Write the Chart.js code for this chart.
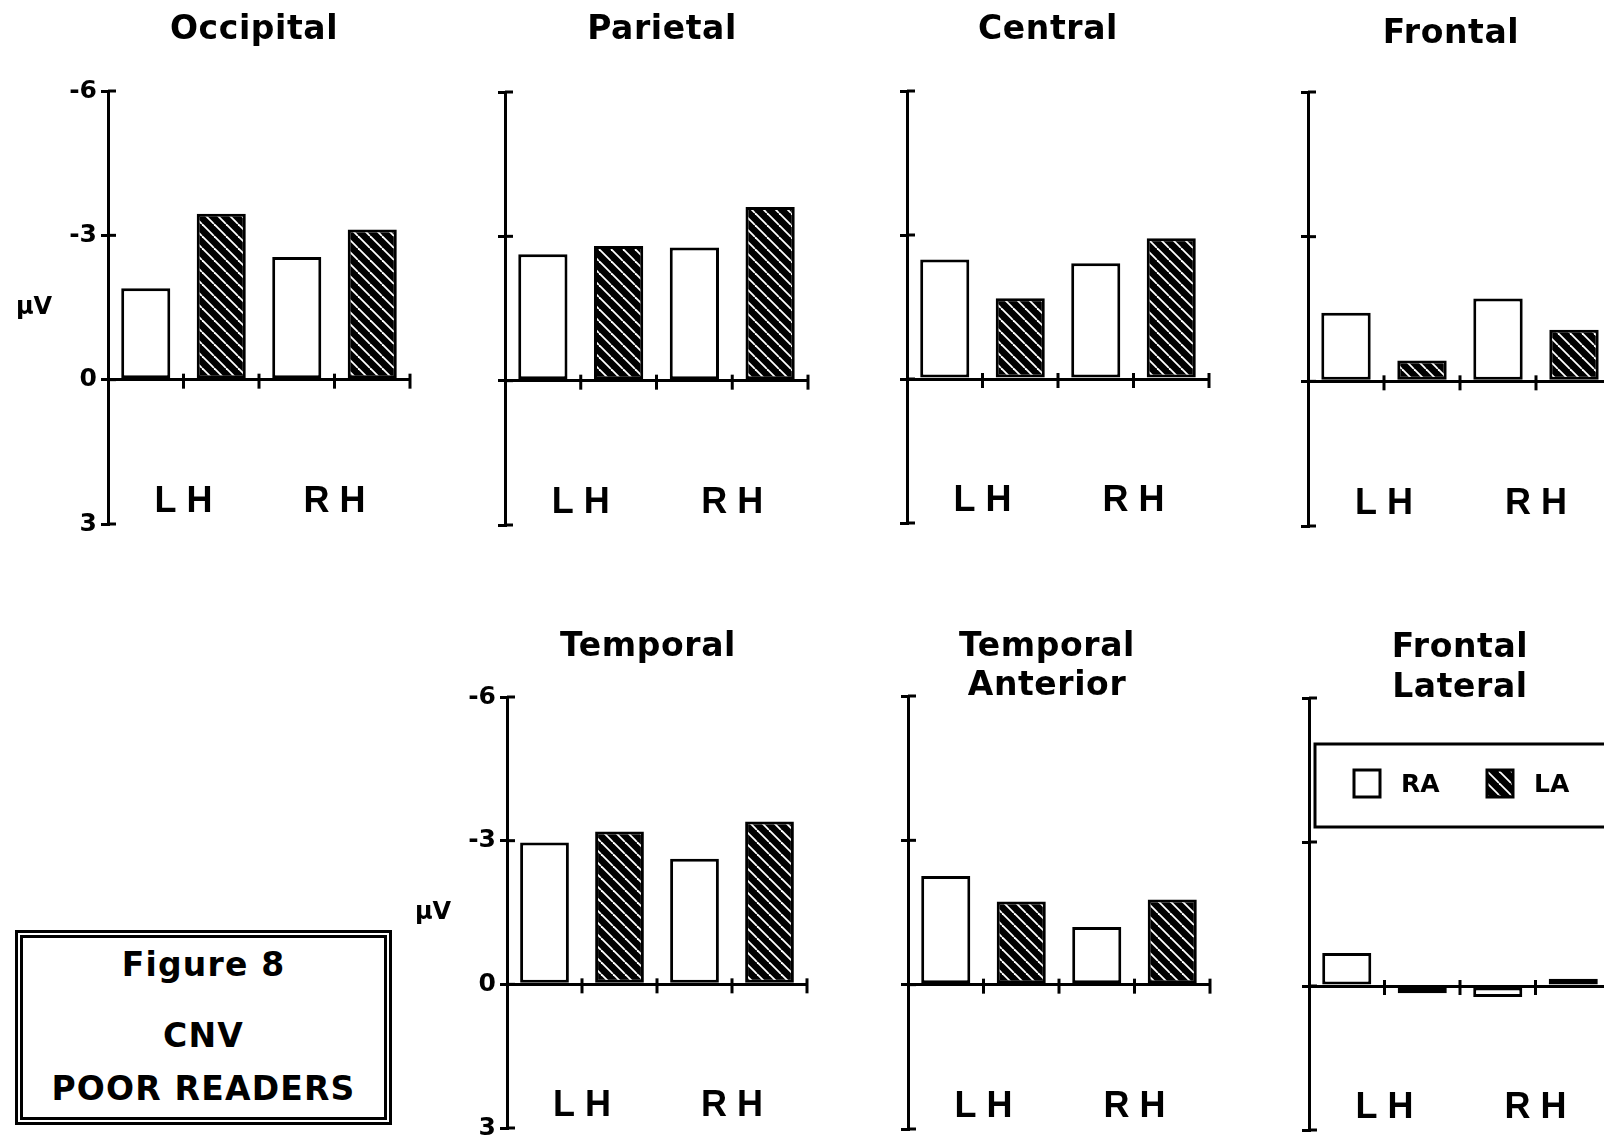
<!DOCTYPE html>
<html>
<head>
<meta charset="utf-8">
<title>Figure 8 - CNV Poor Readers</title>
<script src="https://cdn.jsdelivr.net/npm/chart.js@4.4.1/dist/chart.umd.min.js"></script>
<style>
  html, body {
    margin: 0;
    padding: 0;
    background: #fff;
    overflow: hidden;
  }
  body {
    position: relative;
    width: 1604px;
    height: 1137px;
    font-family: "DejaVu Sans", "Liberation Sans", Arial, sans-serif;
  }
  .figure-box {
    position: absolute;
    left: 15px;
    top: 930px;
    width: 377px;
    height: 195px;
    box-sizing: border-box;
    border: 8px double #000;
  }
  .figure-box__line {
    position: absolute;
    left: 0;
    right: 0;
    height: 40px;
    line-height: 40px;
    text-align: center;
    font-size: 33px;
    font-weight: bold;
    letter-spacing: 1.2px;
    color: #000;
  }
</style>
</head>
<body>
<div class="figure-box">
  <div class="figure-box__line" style="top: 7px">Figure 8</div>
  <div class="figure-box__line" style="top: 78px">CNV</div>
  <div class="figure-box__line" style="top: 131px">POOR READERS</div>
</div>
<script>
// categories and series
const pairs = ['L H', 'R H'];
const groups = ['RA', 'LA'];

// y axis: -6 at top, 3 at bottom (negative up)
const yMin = -6;
const yMax = 3;
const yStep = 3;

// values in µV
const occipitalRA = [-1.9, -2.55];
const occipitalLA = [-3.45, -3.12];
const parietalRA = [-2.63, -2.77];
const parietalLA = [-2.8, -3.61];
const centralRA = [-2.49, -2.41];
const centralLA = [-1.68, -2.93];
const frontalRA = [-1.42, -1.72];
const frontalLA = [-0.43, -1.07];
const temporalRA = [-2.96, -2.62];
const temporalLA = [-3.19, -3.4];
const tempAnteriorRA = [-2.26, -1.2];
const tempAnteriorLA = [-1.73, -1.77];
const frontLateralRA = [-0.69, 0.23];
const frontLateralLA = [0.15, -0.15];

const FONT = '"DejaVu Sans", "Liberation Sans", Arial, sans-serif';
const LABEL_FONT = '"Liberation Sans", Arial, sans-serif';
const PAD = { left: 110, top: 95, right: 12, bottom: 20 };
const Y_AXIS_W = 60;

// box = [axis left, value -6, right end, value 3] in page px
const panels = [
  { title: ['Occipital'], ra: occipitalRA, la: occipitalLA, box: [108, 91, 410, 524], titleX: 254, titleY: [30], yLabels: true },
  { title: ['Parietal'], ra: parietalRA, la: parietalLA, box: [505, 92, 808, 525], titleX: 662, titleY: [30] },
  { title: ['Central'], ra: centralRA, la: centralLA, box: [907, 91, 1209, 523], titleX: 1048, titleY: [30] },
  { title: ['Frontal'], ra: frontalRA, la: frontalLA, box: [1308, 92, 1612, 526], titleX: 1451, titleY: [34] },
  { title: ['Temporal'], ra: temporalRA, la: temporalLA, box: [507, 697, 807, 1128], titleX: 648, titleY: [647], yLabels: true },
  { title: ['Temporal', 'Anterior'], ra: tempAnteriorRA, la: tempAnteriorLA, box: [908, 696, 1210, 1129], titleX: 1047, titleY: [647, 686] },
  { title: ['Frontal', 'Lateral'], ra: frontLateralRA, la: frontLateralLA, box: [1309, 698, 1611, 1130], titleX: 1460, titleY: [648, 688], legend: true },
];

const hatch = makeHatch();

Chart.defaults.font.family = FONT;
Chart.defaults.font.weight = 'bold';
Chart.defaults.color = '#000';

panels.forEach(createPanel);

function makeHatch() {
  const s = 12;
  const tile = document.createElement('canvas');
  tile.width = s;
  tile.height = s;
  const g = tile.getContext('2d');
  g.fillStyle = '#000';
  g.fillRect(0, 0, s, s);
  g.strokeStyle = '#fff';
  g.lineWidth = 1.8;
  [-s, 0, s].forEach((k) => {
    g.beginPath();
    g.moveTo(k, 0);
    g.lineTo(k + s, s);
    g.stroke();
  });
  return g.createPattern(tile, 'repeat');
}

function line(ctx, x1, y1, x2, y2) {
  ctx.beginPath();
  ctx.moveTo(x1, y1);
  ctx.lineTo(x2, y2);
  ctx.stroke();
}

function panelPlugin(p) {
  const [left, top] = p.box;
  return {
    id: 'panel',
    afterDraw(chart) {
      const { ctx, chartArea: a, scales: { x, y } } = chart;
      ctx.save();
      ctx.strokeStyle = '#000';
      ctx.fillStyle = '#000';
      ctx.lineWidth = 3;

      // inner half of the y tick marks
      y.ticks.forEach((t) => {
        const py = y.getPixelForValue(t.value);
        line(ctx, a.left, py, a.left + 8, py);
      });

      // x tick marks: middle of each pair and between pairs
      const zero = y.getPixelForValue(0);
      const step = (x.getPixelForValue(1) - x.getPixelForValue(0)) / 2;
      pairs.forEach((_, i) => {
        const cx = x.getPixelForValue(i);
        line(ctx, cx, zero - 6, cx, zero + 9);
        line(ctx, cx + step, zero - 6, cx + step, zero + 9);
      });

      ctx.textAlign = 'center';
      ctx.textBaseline = 'middle';

      // hemisphere labels
      ctx.font = `bold 36px ${LABEL_FONT}`;
      pairs.forEach((lab, i) => {
        ctx.fillText(lab, x.getPixelForValue(i), y.getPixelForValue(2.55));
      });

      // unit
      if (p.yLabels) {
        ctx.font = `bold 24px ${FONT}`;
        ctx.fillText('µV', a.left - 74, y.getPixelForValue(-1.5));
      }

      // title
      ctx.font = `bold 33px ${FONT}`;
      if ('letterSpacing' in ctx) ctx.letterSpacing = '0.6px';
      p.title.forEach((s, k) => {
        ctx.fillText(s, a.left + p.titleX - left, a.top + p.titleY[k] - top);
      });
      if ('letterSpacing' in ctx) ctx.letterSpacing = '0px';

      // legend box
      if (p.legend) {
        const bx = a.left + 6;
        const by = a.top + 46;
        ctx.strokeRect(bx, by, chart.width + 20 - bx, 83);
        ctx.font = `bold 25px ${FONT}`;
        ctx.textAlign = 'left';
        chart.data.datasets.forEach((ds, i) => {
          const sx = a.left + 45 + i * 133;
          const sy = a.top + 72;
          ctx.fillStyle = ds.backgroundColor;
          ctx.fillRect(sx, sy, 26, 27);
          ctx.strokeRect(sx, sy, 26, 27);
          ctx.fillStyle = '#000';
          ctx.fillText(ds.label, sx + 47, sy + 15);
        });
      }
      ctx.restore();
    },
  };
}

function createPanel(p) {
  const [left, top, right, bottom] = p.box;
  const w = right - left + PAD.left + PAD.right;
  const h = bottom - top + PAD.top + PAD.bottom;
  const canvas = document.createElement('canvas');
  canvas.width = w;
  canvas.height = h;
  canvas.style.position = 'absolute';
  canvas.style.left = `${left - PAD.left}px`;
  canvas.style.top = `${top - PAD.top}px`;
  canvas.style.width = `${w}px`;
  canvas.style.height = `${h}px`;
  document.body.append(canvas);

  const barStyle = {
    borderColor: '#000',
    borderWidth: 3,
    borderSkipped: false,
    categoryPercentage: 1,
    barPercentage: 0.65,
  };

  return new Chart(canvas, {
    type: 'bar',
    data: {
      labels: pairs,
      datasets: [
        { label: groups[0], data: p.ra, backgroundColor: '#fff', ...barStyle },
        { label: groups[1], data: p.la, backgroundColor: hatch, ...barStyle },
      ],
    },
    options: {
      responsive: false,
      animation: false,
      events: [],
      layout: {
        padding: {
          left: PAD.left - Y_AXIS_W,
          top: PAD.top,
          right: PAD.right,
          bottom: PAD.bottom,
        },
      },
      plugins: {
        legend: { display: false },
        tooltip: { enabled: false },
      },
      scales: {
        x: {
          position: { y: 0 },
          grid: { display: false },
          ticks: { display: false },
          border: { display: true, width: 3, color: '#000' },
        },
        y: {
          min: yMin,
          max: yMax,
          reverse: true,
          afterFit: (scale) => {
            scale.width = Y_AXIS_W;
          },
          ticks: {
            stepSize: yStep,
            display: !!p.yLabels,
            color: '#000',
            padding: 4,
            font: { size: 25, weight: 'bold' },
            callback: (v) => String(v),
          },
          grid: {
            drawOnChartArea: false,
            drawTicks: true,
            tickLength: 7,
            lineWidth: 3,
            color: '#000',
          },
          border: { display: true, width: 3, color: '#000' },
        },
      },
    },
    plugins: [panelPlugin(p)],
  });
}
</script>
</body>
</html>
